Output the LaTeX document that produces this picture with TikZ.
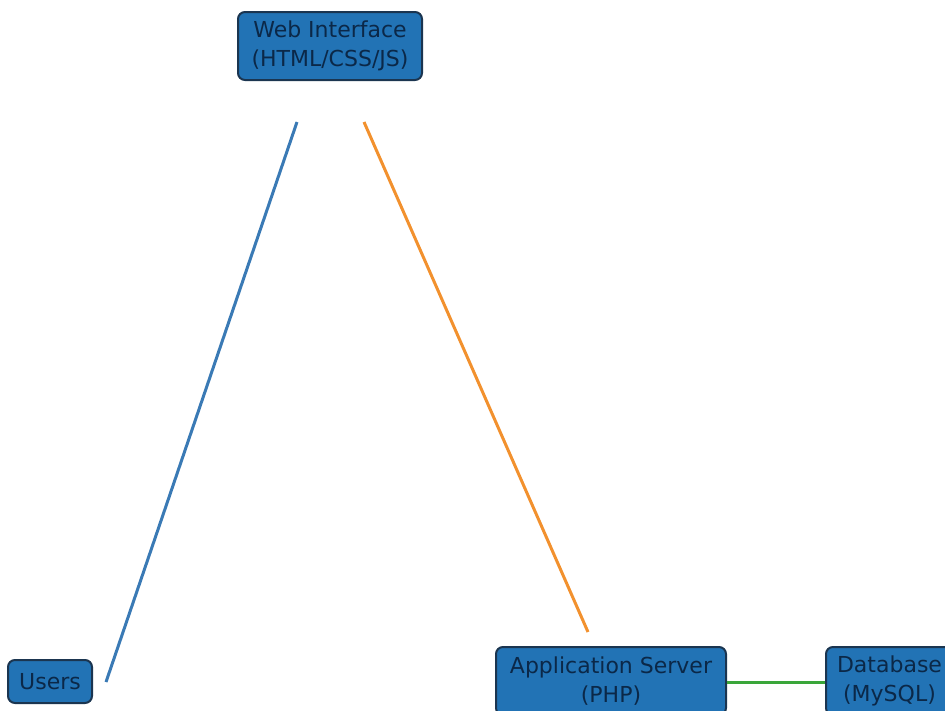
\documentclass[tikz,border=0pt]{standalone}
\usepackage{fontspec}
\setmainfont{DejaVu Sans}
\begin{document}
\begin{tikzpicture}[x=1pt,y=-1pt,
  box/.style={draw=boxedge, fill=boxfill, line width=2pt, rounded corners=7pt,
    inner sep=0pt, align=center, text=boxtext,
    font=\fontsize{22}{28.5}\selectfont},
  link/.style={line width=3pt}]
\definecolor{boxfill}{HTML}{2273B5}
\definecolor{boxedge}{HTML}{1B3550}
\definecolor{boxtext}{HTML}{0B2848}
\definecolor{lblue}{HTML}{3A7AB5}
\definecolor{lorange}{HTML}{F2912E}
\definecolor{lgreen}{HTML}{3AA63A}
\useasboundingbox (0,0) rectangle (945,710);
\clip (0,0) rectangle (945,710);
\node[box, minimum width=184pt, minimum height=68pt] (web) at (330,46) {Web Interface\\(HTML/CSS/JS)};
\node[box, minimum width=84pt, minimum height=43pt] (users) at (50,681.5) {Users};
\node[box, minimum width=230pt, minimum height=68pt] (app) at (611,681) {Application Server\\(PHP)};
\node[box, minimum width=127pt, minimum height=68pt] (db) at (889.5,681) {Database\\(MySQL)};
\coordinate (webL) at (297,122);
\coordinate (webR) at (364,122);
\coordinate (usersE) at (106,682);
\coordinate (appT) at (588,632);
\draw[link, lblue] (webL) -- (usersE);
\draw[link, lorange] (webR) -- (appT);
\draw[link, lgreen] (app.east |- 0,682) -- (db.west |- 0,682);
\end{tikzpicture}
\end{document}
